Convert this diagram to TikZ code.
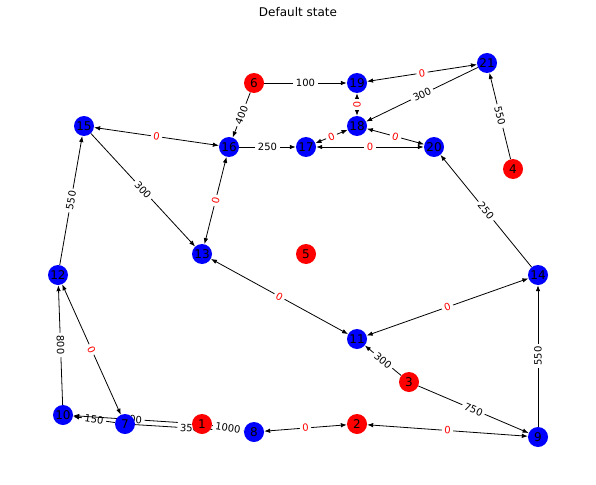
\documentclass[tikz,border=0pt]{standalone}
\usepackage{fontspec}
\setmainfont{DejaVu Sans}
\usetikzlibrary{arrows.meta,backgrounds}

\begin{document}
\begin{tikzpicture}[x=1pt,y=-1pt,
    node/.style={circle,inner sep=0pt,minimum size=20pt,font=\fontsize{12}{12}\selectfont},
    src/.style={node,fill=red},
    dst/.style={node,fill=blue},
    link/.style={-{Latex[length=6pt,width=4.5pt]},line width=0.8pt},
    both/.style={{Latex[length=6pt,width=4.5pt]}-{Latex[length=6pt,width=4.5pt]}},
    wt/.style={midway,sloped,fill=white,inner sep=2.5pt,font=\fontsize{10}{10}\selectfont},
    wtdown/.style={midway,rotate=-88,fill=white,inner sep=2.5pt,font=\fontsize{10}{10}\selectfont},
    zero/.style={wt,text=red}]
    \useasboundingbox (0,0) rectangle (596,484);
    \node(title) at (298,12) {\fontsize{12}{12}\selectfont Default state};
    % red nodes
    \node[src](n1) at (202,424) {1};
    \node[src](n2) at (357,424) {2};
    \node[src](n3) at (409,382) {3};
    \node[src](n4) at (513,169) {4};
    \node[src](n5) at (306,254) {5};
    \node[src](n6) at (254,83)  {6};
    % blue nodes
    \node[dst](n7)  at (125,424) {7};
    \node[dst](n8)  at (254,432) {8};
    \node[dst](n9)  at (538,437) {9};
    \node[dst](n10) at (63,415)  {10};
    \node[dst](n11) at (357,339) {11};
    \node[dst](n12) at (58,275)  {12};
    \node[dst](n13) at (202,254) {13};
    \node[dst](n14) at (538,275) {14};
    \node[dst](n15) at (84,126)  {15};
    \node[dst](n16) at (229,147) {16};
    \node[dst](n17) at (306,147) {17};
    \node[dst](n18) at (357,126) {18};
    \node[dst](n19) at (357,83)  {19};
    \node[dst](n20) at (434,147) {20};
    \node[dst](n21) at (487,63)  {21};
    \begin{pgfonlayer}{background}
    \path[link]
      (n6) edge node[wt] {100} (n19)
      (n6) edge node[wt] {400} (n16)
      (n16) edge node[wt] {250} (n17)
      (n21) edge node[wt] {300} (n18)
      (n4) edge node[wt] {550} (n21)
      (n14) edge node[wt] {250} (n20)
      (n15) edge node[wt] {300} (n13)
      (n12) edge node[wt] {550} (n15)
      (n10) edge node[wtdown] {800} (n12)
      (n3) edge node[wt] {300} (n11)
      (n3) edge node[wt] {750} (n9)
      (n9) edge node[wt] {550} (n14)
      (n7) edge node[wt] {150} (n10)
      (n1) edge node[wt] {200} (n10)
      (n7) edge node[wt] {350} (n8)
      (n1) edge node[wt] {1000} (n8)
      (n21) edge[both] node[zero] {0} (n19)
      (n19) edge[both] node[zero] {0} (n18)
      (n18) edge[both] node[zero] {0} (n17)
      (n18) edge[both] node[zero] {0} (n20)
      (n17) edge[both] node[zero] {0} (n20)
      (n15) edge[both] node[zero] {0} (n16)
      (n16) edge[both] node[zero] {0} (n13)
      (n13) edge[both] node[zero] {0} (n11)
      (n11) edge[both] node[zero] {0} (n14)
      (n12) edge[both] node[zero] {0} (n7)
      (n8) edge[both] node[zero] {0} (n2)
      (n2) edge[both] node[zero] {0} (n9)
      ;
    \end{pgfonlayer}
\end{tikzpicture}
\end{document}
